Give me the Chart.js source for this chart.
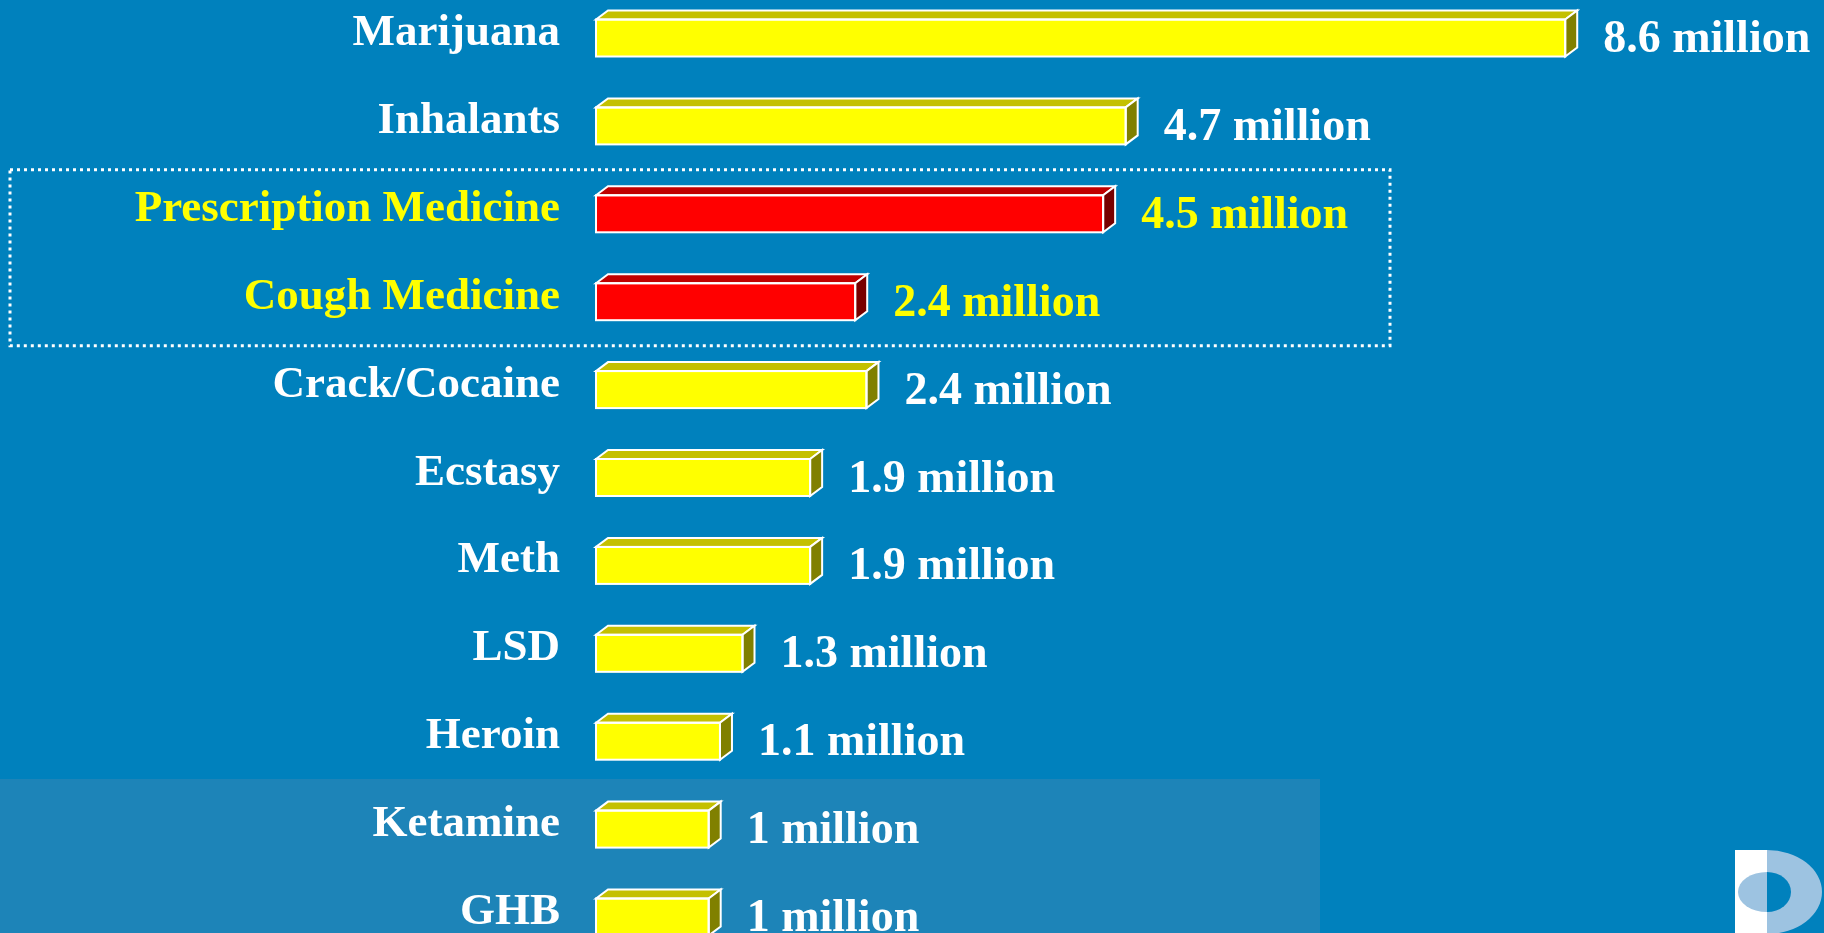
<!DOCTYPE html>
<html><head><meta charset="utf-8">
<script src="https://cdn.jsdelivr.net/npm/chart.js@4/dist/chart.umd.min.js"></script>
<style>html,body{margin:0;padding:0;background:#0081BD;overflow:hidden}canvas{display:block}</style>
</head><body>
<canvas id="c" width="1824" height="933"></canvas>
<script>
// ---- data ----
const categories = ["Marijuana","Inhalants","Prescription Medicine","Cough Medicine","Crack/Cocaine","Ecstasy","Meth","LSD","Heroin","Ketamine","GHB"];
const usersMillions = [8.6, 4.7, 4.5, 2.3, 2.4, 1.9, 1.9, 1.3, 1.1, 1.0, 1.0];
const valueLabels = ["8.6 million","4.7 million","4.5 million","2.4 million","2.4 million","1.9 million","1.9 million","1.3 million","1.1 million","1 million","1 million"];
const highlighted = ["Prescription Medicine","Cough Medicine"];

// ---- style ----
const BG = '#0081BD', PANEL = '#1D84B8';
const DX = 12, DY = 9;
const FONT = '"Liberation Serif", "DejaVu Serif", serif';

function poly(ctx, pts){ ctx.beginPath(); ctx.moveTo(pts[0][0],pts[0][1]); for(let k=1;k<pts.length;k++) ctx.lineTo(pts[k][0],pts[k][1]); ctx.closePath(); ctx.fill(); ctx.stroke(); }

const deco = {
  id:'deco',
  beforeDraw(chart){
    const ctx = chart.ctx; ctx.save();
    ctx.fillStyle = BG; ctx.fillRect(0,0,chart.width,chart.height);
    ctx.fillStyle = PANEL; ctx.fillRect(0,779,1320,chart.height-779);
    ctx.restore();
  },
  afterDatasetsDraw(chart){
    const ctx = chart.ctx; ctx.save();
    ctx.strokeStyle = '#FFFFFF'; ctx.lineWidth = 2; ctx.lineJoin = 'miter';
    chart.getDatasetMeta(0).data.forEach((bar,i)=>{
      const p = bar.getProps(['x','y','base','height'], true);
      const t = p.y - p.height/2, b = p.y + p.height/2, l = p.base, r = p.x;
      const hi = highlighted.includes(categories[i]);
      ctx.fillStyle = hi ? '#C00000' : '#C4C000';
      poly(ctx, [[l,t],[l+DX,t-DY],[r+DX,t-DY],[r,t]]);
      ctx.fillStyle = hi ? '#780000' : '#808000';
      poly(ctx, [[r,t],[r+DX,t-DY],[r+DX,b-DY],[r,b]]);
      ctx.strokeRect(l,t,r-l,b-t);
    });
    ctx.restore();
  },
  afterDraw(chart){
    const ctx = chart.ctx, ys = chart.scales.y;
    ctx.save();
    // labels
    chart.getDatasetMeta(0).data.forEach((bar,i)=>{
      const p = bar.getProps(['x','y'], true);
      const hi = highlighted.includes(categories[i]);
      ctx.fillStyle = hi ? '#FFFF00' : '#FFFFFF';
      ctx.textBaseline = 'alphabetic';
      ctx.font = 'bold 45px ' + FONT;
      ctx.textAlign = 'right';
      ctx.fillText(categories[i], 560, p.y + 7);
      ctx.textAlign = 'left';
      ctx.font = 'bold 46px ' + FONT;
      ctx.fillText(valueLabels[i], p.x + DX + 26, p.y + 14);
    });
    // dotted highlight box
    const top = ys.getPixelForValue(1.5), bot = ys.getPixelForValue(3.5);
    ctx.strokeStyle = '#FFFFFF'; ctx.lineWidth = 3; ctx.setLineDash([3,4]);
    ctx.strokeRect(10, top, 1380, bot-top);
    ctx.setLineDash([]);
    // logo
    ctx.fillStyle = '#9DC3E1';
    ctx.beginPath(); ctx.moveTo(1767,850); ctx.ellipse(1767,892,55,42,0,-Math.PI/2,Math.PI/2); ctx.lineTo(1767,940); ctx.lineTo(1767,850); ctx.closePath(); ctx.fill();
    ctx.fillStyle = BG;
    ctx.beginPath(); ctx.moveTo(1767,872); ctx.ellipse(1767,892,24,20,0,-Math.PI/2,Math.PI/2); ctx.closePath(); ctx.fill();
    ctx.fillStyle = '#FFFFFF'; ctx.fillRect(1735,850,32,90);
    ctx.fillStyle = '#9DC3E1';
    ctx.beginPath(); ctx.moveTo(1767,872); ctx.ellipse(1767,892,29,20,0,-Math.PI/2,Math.PI/2,true); ctx.closePath(); ctx.fill();
    ctx.restore();
  }
};

new Chart(document.getElementById('c'), {
  type:'bar',
  data:{ labels: categories, datasets:[{
    data: usersMillions,
    backgroundColor: categories.map(c => highlighted.includes(c) ? '#FF0000' : '#FFFF00'),
    borderWidth: 0,
    barThickness: 37,
    clip: false
  }]},
  options:{
    indexAxis:'y',
    responsive:false,
    animation:false,
    layout:{ padding:{ left:596, right:101, top:38, bottom:16 } },
    plugins:{ legend:{display:false}, tooltip:{enabled:false} },
    scales:{
      x:{ display:false, min:0, max:10 },
      y:{ display:false, offset:false }
    }
  },
  plugins:[deco]
});
</script>
</body></html>
